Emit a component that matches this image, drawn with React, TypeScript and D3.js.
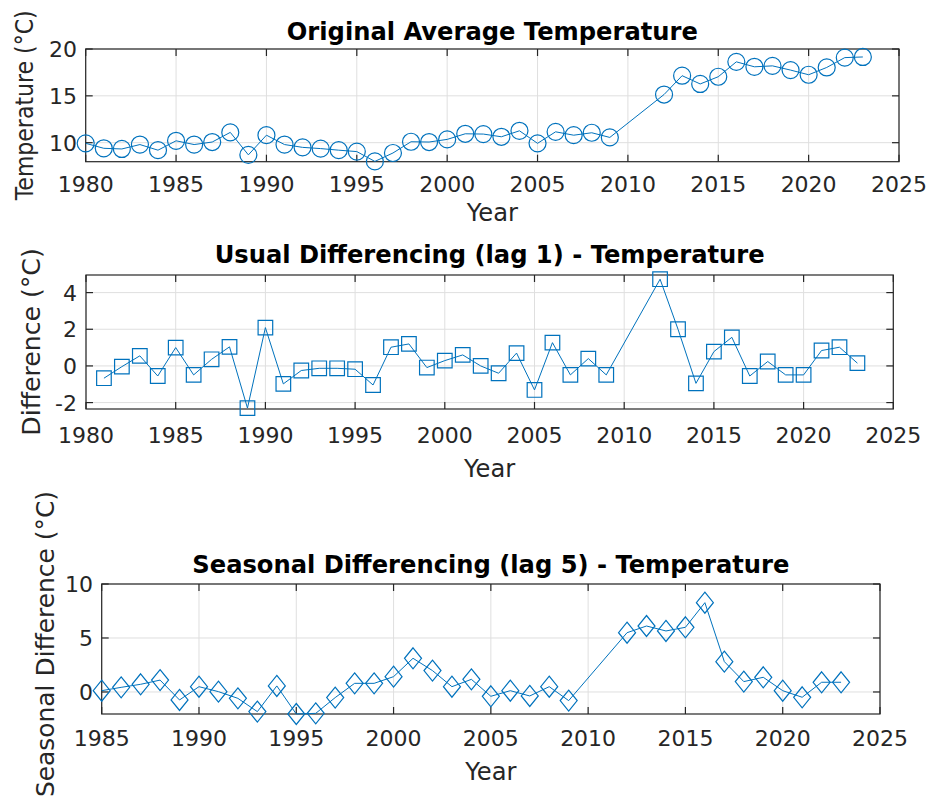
import React from "react";
import * as d3 from "d3";

// Annual average temperature (°C); no records for 2010 and 2011
const TEMP_YEARS = [
  1980, 1981, 1982, 1983, 1984, 1985, 1986, 1987, 1988, 1989,
  1990, 1991, 1992, 1993, 1994, 1995, 1996, 1997, 1998, 1999,
  2000, 2001, 2002, 2003, 2004, 2005, 2006, 2007, 2008, 2009,
  2012, 2013, 2014, 2015, 2016, 2017, 2018, 2019, 2020, 2021, 2022, 2023,
];
const TEMP_VALUES = [
  9.93, 9.4, 9.33, 9.8, 9.2, 10.2, 9.8, 10.07, 11.1, 8.7,
  10.8, 9.8, 9.5, 9.37, 9.2, 9.05, 8.0, 8.9, 10.1, 10.07,
  10.35, 10.95, 10.92, 10.63, 11.27, 9.93, 11.16, 10.8, 11.06, 10.56,
  15.14, 17.15, 16.27, 17.04, 18.63, 18.1, 18.2, 17.75, 17.25, 18.03, 19.08, 19.15,
];

// First difference (lag 1)
const DIFF_YEARS = [
  1981, 1982, 1983, 1984, 1985, 1986, 1987, 1988, 1989,
  1990, 1991, 1992, 1993, 1994, 1995, 1996, 1997, 1998, 1999,
  2000, 2001, 2002, 2003, 2004, 2005, 2006, 2007, 2008, 2009,
  2012, 2013, 2014, 2015, 2016, 2017, 2018, 2019, 2020, 2021, 2022, 2023,
];
const DIFF_VALUES = [
  -0.67, -0.04, 0.55, -0.55, 1.0, -0.49, 0.36, 1.04, -2.3,
  2.09, -0.98, -0.25, -0.13, -0.13, -0.18, -1.04, 1.02, 1.2, -0.09,
  0.29, 0.6, 0.0, -0.4, 0.7, -1.31, 1.27, -0.49, 0.4, -0.49,
  4.73, 2.0, -0.95, 0.78, 1.56, -0.55, 0.24, -0.49, -0.49, 0.84, 1.02, 0.15,
];

// Seasonal difference (lag 5)
const SEAS_YEARS = [
  1985, 1986, 1987, 1988, 1989,
  1990, 1991, 1992, 1993, 1994, 1995, 1996, 1997, 1998, 1999,
  2000, 2001, 2002, 2003, 2004, 2005, 2006, 2007, 2008, 2009,
  2012, 2013, 2014, 2015, 2016, 2017, 2018, 2019, 2020, 2021, 2022, 2023,
];
const SEAS_VALUES = [
  0.12, 0.43, 0.71, 1.1, -0.74,
  0.49, 0.03, -0.59, -1.82, 0.56, -2.04, -1.98, -0.52, 0.8, 0.8,
  1.42, 3.12, 1.98, 0.49, 1.17, -0.4, 0.12, -0.37, 0.49, -0.8,
  5.49, 6.11, 5.65, 5.99, 8.27, 2.81, 0.96, 1.36, 0.12, -0.49, 0.9, 0.9,
];

const X_TICKS_FULL = [1980, 1985, 1990, 1995, 2000, 2005, 2010, 2015, 2020, 2025];
const X_TICKS_SEAS = [1985, 1990, 1995, 2000, 2005, 2010, 2015, 2020, 2025];
const Y_TICKS_TEMP = [10, 15, 20];
const Y_TICKS_DIFF = [-2, 0, 2, 4];
const Y_TICKS_SEAS = [0, 5, 10];

const BLUE = "#0072BD";
const AXIS = "#262626";
const GRID = "#dfdfdf";
const FONT = "'DejaVu Sans', Verdana, sans-serif";

type MarkerKind = "circle" | "square" | "diamond";

function markerPath(kind: MarkerKind, x: number, y: number): string {
  if (kind === "circle") {
    const r = 8.5;
    return `M${x - r},${y}a${r},${r} 0 1,0 ${2 * r},0a${r},${r} 0 1,0 ${-2 * r},0Z`;
  }
  if (kind === "square") {
    const h = 7.3;
    return `M${x - h},${y - h}H${x + h}V${y + h}H${x - h}Z`;
  }
  const w = 8.5;
  const h = 10.5;
  return `M${x},${y - h}L${x + w},${y}L${x},${y + h}L${x - w},${y}Z`;
}

interface PanelProps {
  left: number;
  right: number;
  top: number;
  bottom: number;
  xDomain: [number, number];
  yDomain: [number, number];
  xTicks: number[];
  yTicks: number[];
  xs: number[];
  ys: number[];
  marker: MarkerKind;
  title: string;
  titleY: number;
  xTickY: number;
  xLabelY: number;
  yTickX: number;
  yLabel: string;
  yLabelX: number;
  yLabelShift: number;
  yLabelStretch: number;
}

function Panel(p: PanelProps) {
  const x = d3.scaleLinear().domain(p.xDomain).range([p.left, p.right]);
  const y = d3.scaleLinear().domain(p.yDomain).range([p.bottom, p.top]);
  const line = d3
    .line<number>()
    .x((_, i) => x(p.xs[i]))
    .y((v) => y(v));
  const tl = 7;
  const cx = (p.left + p.right) / 2;
  const cy = (p.top + p.bottom) / 2 + p.yLabelShift;
  return (
    <g>
      {/* grid */}
      {p.xTicks.map((t) => (
        <line key={"gx" + t} x1={x(t)} x2={x(t)} y1={p.top} y2={p.bottom} stroke={GRID} strokeWidth={1} />
      ))}
      {p.yTicks.map((t) => (
        <line key={"gy" + t} x1={p.left} x2={p.right} y1={y(t)} y2={y(t)} stroke={GRID} strokeWidth={1} />
      ))}
      {/* tick marks, inward on all four sides */}
      {p.xTicks.map((t) => (
        <g key={"tx" + t}>
          <line x1={x(t)} x2={x(t)} y1={p.bottom} y2={p.bottom - tl} stroke={AXIS} strokeWidth={1.2} />
          <line x1={x(t)} x2={x(t)} y1={p.top} y2={p.top + tl} stroke={AXIS} strokeWidth={1.2} />
        </g>
      ))}
      {p.yTicks.map((t) => (
        <g key={"ty" + t}>
          <line x1={p.left} x2={p.left + tl} y1={y(t)} y2={y(t)} stroke={AXIS} strokeWidth={1.2} />
          <line x1={p.right} x2={p.right - tl} y1={y(t)} y2={y(t)} stroke={AXIS} strokeWidth={1.2} />
        </g>
      ))}
      <rect
        x={p.left}
        y={p.top}
        width={p.right - p.left}
        height={p.bottom - p.top}
        fill="none"
        stroke={AXIS}
        strokeWidth={1.2}
      />
      {/* tick labels */}
      {p.xTicks.map((t) => (
        <text key={"lx" + t} x={x(t)} y={p.xTickY} textAnchor="middle" fontSize={22} fill={AXIS} fontFamily={FONT}>
          {t}
        </text>
      ))}
      {p.yTicks.map((t) => (
        <text
          key={"ly" + t}
          x={p.yTickX}
          y={y(t)}
          dy="0.36em"
          textAnchor="end"
          fontSize={22}
          fill={AXIS}
          fontFamily={FONT}
        >
          {t}
        </text>
      ))}
      {/* series */}
      <path d={line(p.ys) ?? ""} fill="none" stroke={BLUE} strokeWidth={1} strokeLinejoin="round" />
      {p.ys.map((v, i) => (
        <path key={"m" + i} d={markerPath(p.marker, x(p.xs[i]), y(v))} fill="none" stroke={BLUE} strokeWidth={1.2} />
      ))}
      {/* titles and labels */}
      <text x={cx} y={p.titleY} textAnchor="middle" fontSize={24.2} fontWeight="bold" fill="#000" fontFamily={FONT}>
        {p.title}
      </text>
      <text x={cx} y={p.xLabelY} textAnchor="middle" fontSize={24.2} fill={AXIS} fontFamily={FONT}>
        Year
      </text>
      <text
        transform={`translate(${p.yLabelX},${cy}) rotate(-90) scale(${p.yLabelStretch},1)`}
        dy="0.36em"
        textAnchor="middle"
        fontSize={24.2}
        fill={AXIS}
        fontFamily={FONT}
      >
        {p.yLabel}
      </text>
    </g>
  );
}

export default function App() {
  return (
    <svg
      width={931}
      height={800}
      style={{ position: "absolute", left: 0, top: 0, background: "#fff" }}
    >
      <rect width={931} height={800} fill="#fff" />
      <Panel
        left={85.7}
        right={899}
        top={49}
        bottom={161.7}
        xDomain={[1980, 2025]}
        yDomain={[7.97, 20]}
        xTicks={X_TICKS_FULL}
        yTicks={Y_TICKS_TEMP}
        xs={TEMP_YEARS}
        ys={TEMP_VALUES}
        marker="circle"
        title="Original Average Temperature"
        titleY={40}
        xTickY={191.5}
        xLabelY={221}
        yTickX={77}
        yLabel="Temperature (°C)"
        yLabelX={24}
        yLabelShift={0}
        yLabelStretch={0.91}
      />
      <Panel
        left={86}
        right={893.3}
        top={275}
        bottom={409}
        xDomain={[1980, 2025]}
        yDomain={[-2.35, 4.96]}
        xTicks={X_TICKS_FULL}
        yTicks={Y_TICKS_DIFF}
        xs={DIFF_YEARS}
        ys={DIFF_VALUES}
        marker="square"
        title="Usual Differencing (lag 1) - Temperature"
        titleY={263}
        xTickY={442.5}
        xLabelY={477}
        yTickX={77}
        yLabel="Difference (°C)"
        yLabelX={31}
        yLabelShift={0}
        yLabelStretch={1.04}
      />
      <Panel
        left={101.7}
        right={880}
        top={584}
        bottom={714}
        xDomain={[1985, 2025]}
        yDomain={[-2.04, 10]}
        xTicks={X_TICKS_SEAS}
        yTicks={Y_TICKS_SEAS}
        xs={SEAS_YEARS}
        ys={SEAS_VALUES}
        marker="diamond"
        title="Seasonal Differencing (lag 5) - Temperature"
        titleY={573}
        xTickY={745.5}
        xLabelY={780}
        yTickX={93}
        yLabel="Seasonal Difference (°C)"
        yLabelX={45}
        yLabelShift={-5}
        yLabelStretch={1.03}
      />
    </svg>
  );
}
